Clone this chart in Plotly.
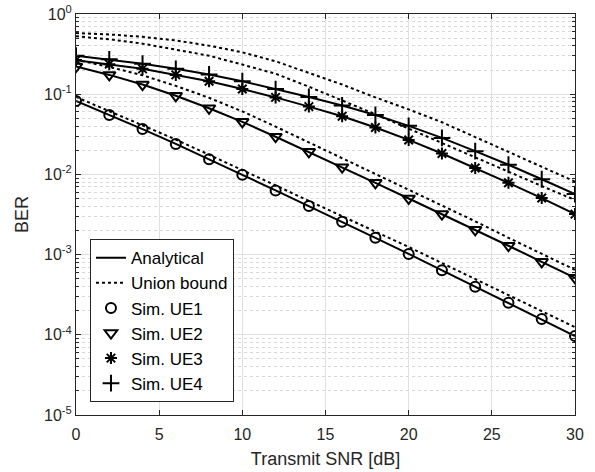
import plotly.graph_objects as go

snr = [0, 2, 4, 6, 8, 10, 12, 14, 16, 18, 20, 22, 24, 26, 28, 30]

ue1_ana = [0.0822, 0.0552, 0.0367, 0.0240, 0.0155, 0.00989, 0.00631, 0.00403,
           0.00257, 0.00162, 0.00102, 0.000638, 0.000398, 0.000251, 0.000157, 0.0000966]
ue1_ub = [0.0923, 0.0619, 0.0414, 0.0272, 0.0176, 0.01135, 0.00731, 0.00473,
          0.00305, 0.00195, 0.001245, 0.000785, 0.000495, 0.000316, 0.0002, 0.0001245]

ue2_ana = [0.221, 0.174, 0.132, 0.0955, 0.0668, 0.0452, 0.0295, 0.0191,
           0.0123, 0.00785, 0.00501, 0.0032, 0.00204, 0.00129, 0.000813, 0.000513]
ue2_ub = [0.269, 0.219, 0.172, 0.127, 0.0902, 0.061, 0.0394, 0.0251,
          0.016, 0.0101, 0.00646, 0.00407, 0.0026, 0.00162, 0.00102, 0.000646]

ue3_ana = [0.266, 0.237, 0.207, 0.174, 0.145, 0.116, 0.0912, 0.070,
           0.0531, 0.0385, 0.0269, 0.0182, 0.012, 0.00785, 0.00507, 0.0032]
ue3_ub = [0.527, 0.484, 0.427, 0.363, 0.302, 0.234, 0.180, 0.124,
          0.0841, 0.0562, 0.0372, 0.0245, 0.0162, 0.0107, 0.00716, 0.00479]

ue4_ana = [0.302, 0.272, 0.240, 0.207, 0.176, 0.145, 0.116, 0.0923,
           0.0724, 0.055, 0.0403, 0.0285, 0.0195, 0.0132, 0.0087, 0.00569]
ue4_ub = [0.579, 0.556, 0.519, 0.468, 0.403, 0.333, 0.257, 0.186,
          0.132, 0.0912, 0.0646, 0.0447, 0.0295, 0.0191, 0.01245, 0.00813]

sim_names = ["Sim. UE1", "Sim. UE2", "Sim. UE3", "Sim. UE4"]
sim_symbols = ["circle-open", "triangle-down-open", "asterisk-open", "cross-thin-open"]
sim_sizes = [10, 11, 10, 12]

x_ticks = [0, 5, 10, 15, 20, 25, 30]
y_tickvals = [1e-5, 1e-4, 1e-3, 1e-2, 1e-1, 1e0]
y_ticktext = ["10<sup>-5</sup>", "10<sup>-4</sup>", "10<sup>-3</sup>",
              "10<sup>-2</sup>", "10<sup>-1</sup>", "10<sup>0</sup>"]

ana = [ue1_ana, ue2_ana, ue3_ana, ue4_ana]
ub = [ue1_ub, ue2_ub, ue3_ub, ue4_ub]

fig = go.Figure()
black = "black"
for a in ana:
    fig.add_trace(go.Scatter(x=snr, y=a, mode="lines", line=dict(color=black, width=2),
                             showlegend=False, hoverinfo="skip"))
for u in ub:
    fig.add_trace(go.Scatter(x=snr, y=u, mode="lines", line=dict(color=black, width=2, dash="dot"),
                             showlegend=False, hoverinfo="skip"))
# legend-only line entries
fig.add_trace(go.Scatter(x=[None], y=[None], mode="lines", line=dict(color=black, width=2),
                         name="Analytical"))
fig.add_trace(go.Scatter(x=[None], y=[None], mode="lines", line=dict(color=black, width=2, dash="dot"),
                         name="Union bound"))
for a, nm, sym, sz in zip(ana, sim_names, sim_symbols, sim_sizes):
    fig.add_trace(go.Scatter(x=snr, y=a, mode="markers", name=nm,
                             marker=dict(symbol=sym, size=sz, color=black,
                                         line=dict(color=black, width=2))))

minor_vals = [k * 10.0 ** e for e in range(-5, 0) for k in range(2, 10)]

fig.update_layout(
    width=595, height=472,
    margin=dict(l=76, r=20, t=14, b=57),
    paper_bgcolor="white", plot_bgcolor="white",
    font=dict(family="Liberation Sans, Arial, sans-serif", size=16, color="#262626"),
    legend=dict(x=0.028, y=0.032, xanchor="left", yanchor="bottom",
                bgcolor="white", bordercolor="#262626", borderwidth=1,
                font=dict(size=17, color="black"), itemwidth=30,
                tracegroupgap=0),
    xaxis=dict(range=[0, 30], tickvals=x_ticks, showgrid=True, gridcolor="#e0e0e0",
               gridwidth=1, zeroline=False, showline=True, linecolor="#262626",
               linewidth=1, mirror="allticks", ticks="inside", ticklen=5,
               tickcolor="#262626", automargin=False, tickfont=dict(size=16),
               ticklabelstandoff=5, ticklabeloverflow="allow",
               title=dict(text="Transmit SNR [dB]", font=dict(size=18, color="#262626"),
                          standoff=10)),
    yaxis=dict(type="log", range=[-5, 0], tickvals=y_tickvals, ticktext=y_ticktext,
               showgrid=True, gridcolor="#e0e0e0", gridwidth=1, zeroline=False,
               showline=True, linecolor="#262626", linewidth=1, mirror="allticks",
               ticks="inside", ticklen=5, tickcolor="#262626", automargin=False,
               tickfont=dict(size=16), ticklabeloverflow="allow",
               minor=dict(tickvals=minor_vals, ticks="inside", ticklen=3,
                          tickcolor="#262626", showgrid=True, gridcolor="#d8d8d8",
                          griddash="dot", gridwidth=1),
               title=dict(text="BER", font=dict(size=18, color="#262626"), standoff=10)),
)

fig.write_html("out.html", config={"displayModeBar": False},
               post_script="document.body.style.margin='0px';")
